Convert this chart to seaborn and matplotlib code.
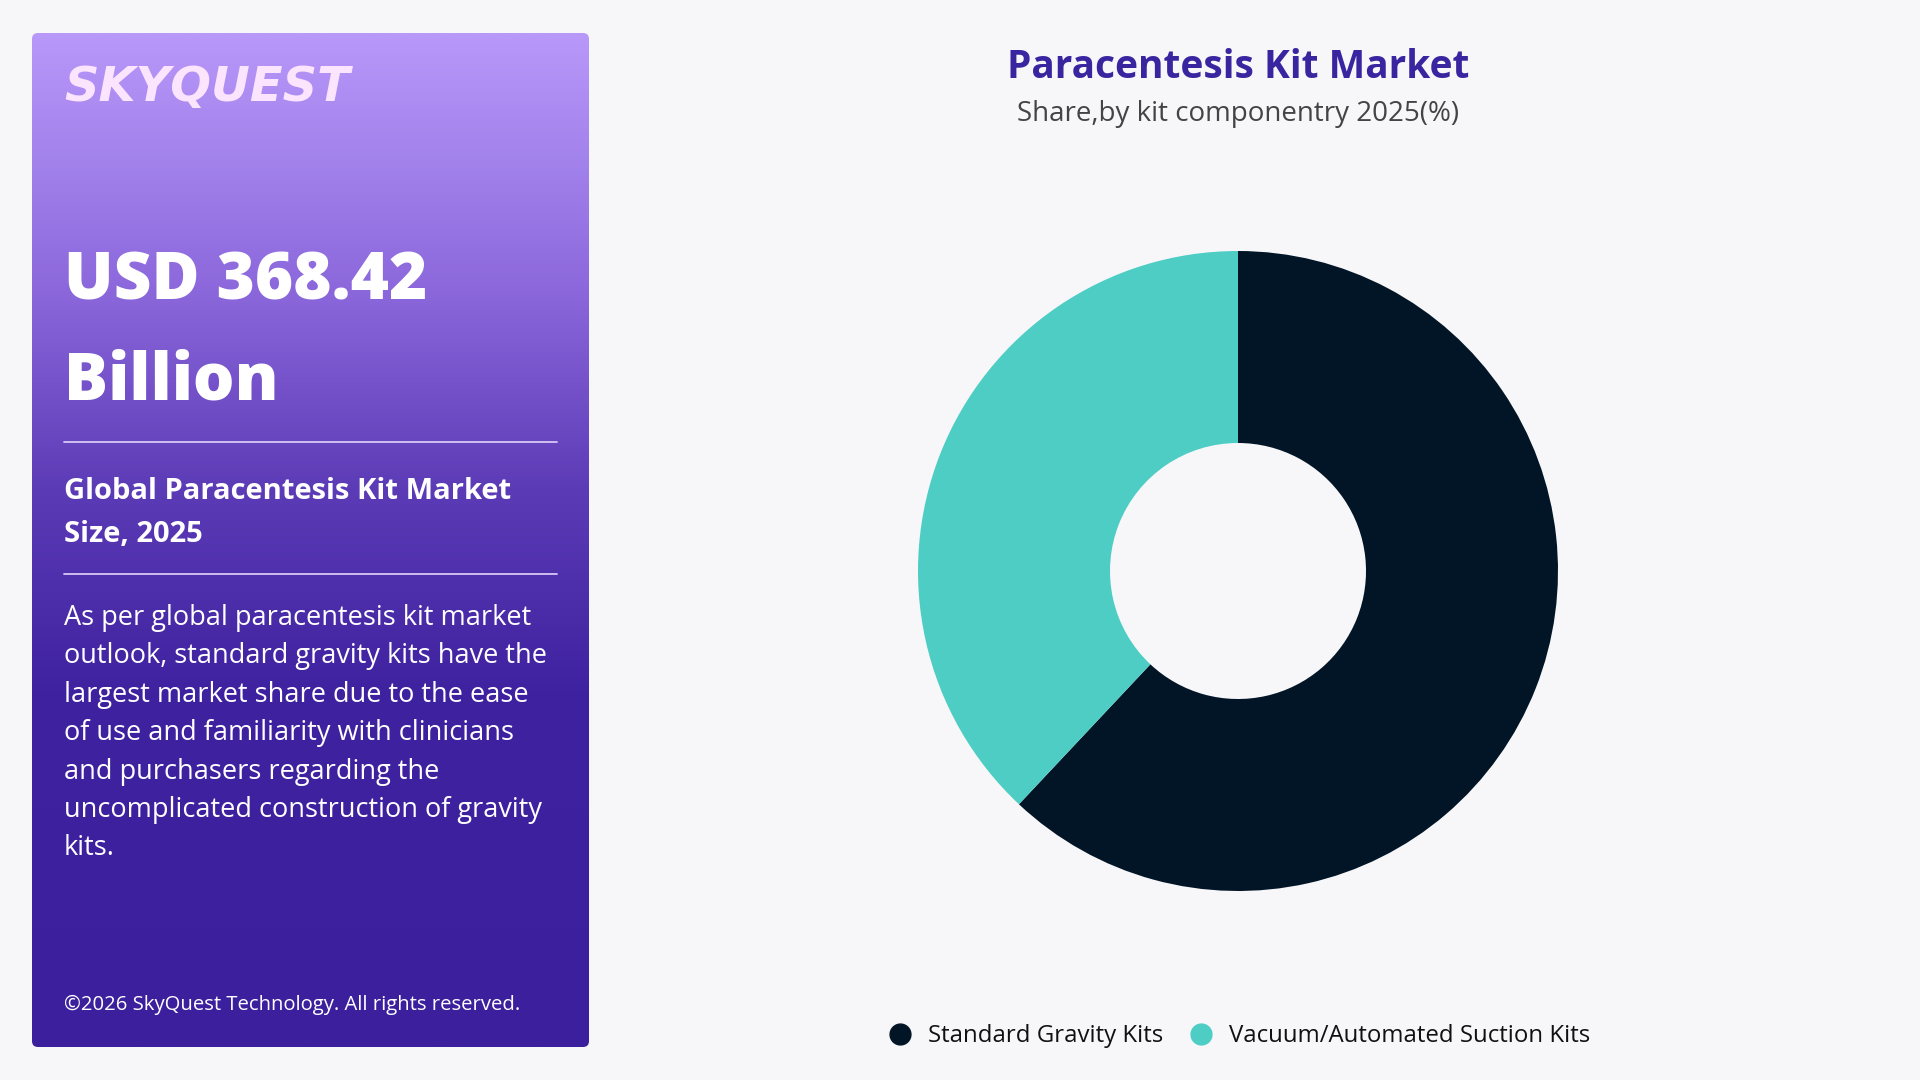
import numpy as np
import matplotlib
matplotlib.use("Agg")
import matplotlib.pyplot as plt
from matplotlib.patches import FancyBboxPatch
from matplotlib.lines import Line2D
from matplotlib.colors import LinearSegmentedColormap
import seaborn as sns

# ---------------- data ----------------
categories = ["Standard Gravity Kits", "Vacuum/Automated Suction Kits"]
shares = [62, 38]
colors = ["#021526", "#4ecdc4"]

title = "Paracentesis Kit Market"
subtitle = "Share,by kit componentry 2025(%)"
headline = ["USD 368.42", "Billion"]
subheading = ["Global Paracentesis Kit Market", "Size, 2025"]
body_lines = [
    "As per global paracentesis kit market",
    "outlook, standard gravity kits have the",
    "largest market share due to the ease",
    "of use and familiarity with clinicians",
    "and purchasers regarding the",
    "uncomplicated construction of gravity",
    "kits.",
]
footer = "\u00a92026 SkyQuest Technology. All rights reserved."
logo = "SKYQUEST"

# ---------------- style ----------------
sns.set_theme(style="white")
FONT = ["Open Sans", "DejaVu Sans"]
plt.rcParams["font.family"] = FONT
BG = "#f7f7fa"

W, H = 1920, 1080
fig = plt.figure(figsize=(W / 100, H / 100), dpi=100, facecolor=BG)

# full-figure overlay axes in pixel coords (top-left origin)
bg = fig.add_axes([0, 0, 1, 1], zorder=0)
bg.set_xlim(0, W)
bg.set_ylim(H, 0)
bg.axis("off")
bg.set_facecolor("none")

# left panel with vertical gradient
px0, py0, px1, py1 = 32, 33, 589, 1047
panel = FancyBboxPatch((px0, py0), px1 - px0, py1 - py0,
                       boxstyle="round,pad=0,rounding_size=6",
                       linewidth=0, facecolor="none")
bg.add_patch(panel)
cmap = LinearSegmentedColormap.from_list(
    "panel",
    [(0.0, "#b898f9"), (0.12, "#a383ec"), (0.25, "#8c68dc"),
     (0.45, "#5c3bb6"), (0.65, "#3f22a0"), (1.0, "#3b1f9d")])
grad = np.linspace(0, 1, 512).reshape(-1, 1)
im = bg.imshow(grad, cmap=cmap, aspect="auto",
               extent=(px0, px1, py1, py0), zorder=1)
im.set_clip_path(panel)
bg.set_xlim(0, W)
bg.set_ylim(H, 0)

# panel texts
bg.text(64, 88, logo, color="#fbe4fd", fontsize=34.5, fontweight="bold",
        fontstyle="oblique", family=["DejaVu Sans"], va="center", ha="left",
        zorder=3)
bg.text(64, 300, headline[0], color="white", fontsize=47.2, fontweight=800,
        va="baseline", ha="left", zorder=3)
bg.text(64, 399, headline[1], color="white", fontsize=47.2, fontweight=800,
        va="baseline", ha="left", zorder=3)
bg.plot([64, 557], [442, 442], color="#d8c8f5", lw=1.3, zorder=3)
bg.text(64, 499, subheading[0], color="white", fontsize=21, fontweight="bold",
        va="baseline", ha="left", zorder=3)
bg.text(64, 542, subheading[1], color="white", fontsize=21, fontweight="bold",
        va="baseline", ha="left", zorder=3)
bg.plot([64, 557], [574, 574], color="#d8c8f5", lw=1.3, zorder=3)
for i, line in enumerate(body_lines):
    bg.text(64, 625 + i * 38.4, line, color="white", fontsize=19.5,
            va="baseline", ha="left", zorder=3)
bg.text(64, 1010, footer, color="white", fontsize=14.6,
        va="baseline", ha="left", zorder=3)

# chart title
bg.text(1238, 78, title, color="#3a25a0", fontsize=28, fontweight="bold",
        va="baseline", ha="center", zorder=3)
bg.text(1238, 121, subtitle, color="#444444", fontsize=20,
        va="baseline", ha="center", zorder=3)

# ---------------- donut ----------------
cx, cy, r = 1238, 571, 320
ax = fig.add_axes([(cx - r) / W, (H - cy - r) / H, 2 * r / W, 2 * r / H], zorder=2)
ax.set_facecolor("none")
palette = sns.color_palette(colors)
ax.pie(shares, colors=palette, startangle=90, counterclock=False,
       radius=1.0, wedgeprops=dict(width=0.6, linewidth=0))
ax.set_xlim(-1, 1)
ax.set_ylim(-1, 1)
ax.set_aspect("equal")
ax.axis("off")

# legend
handles = [Line2D([0], [0], marker="o", linestyle="none", markersize=15,
                  markerfacecolor=c, markeredgecolor=c) for c in palette]
fig.legend(handles, categories, loc="center",
           bbox_to_anchor=(1233 / W, 1 - 1036 / H), ncol=2, frameon=False,
           fontsize=17.3, handletextpad=0.15, columnspacing=0.6,
           labelcolor="#111111")

fig.savefig("out.png", dpi=100, facecolor=BG)
